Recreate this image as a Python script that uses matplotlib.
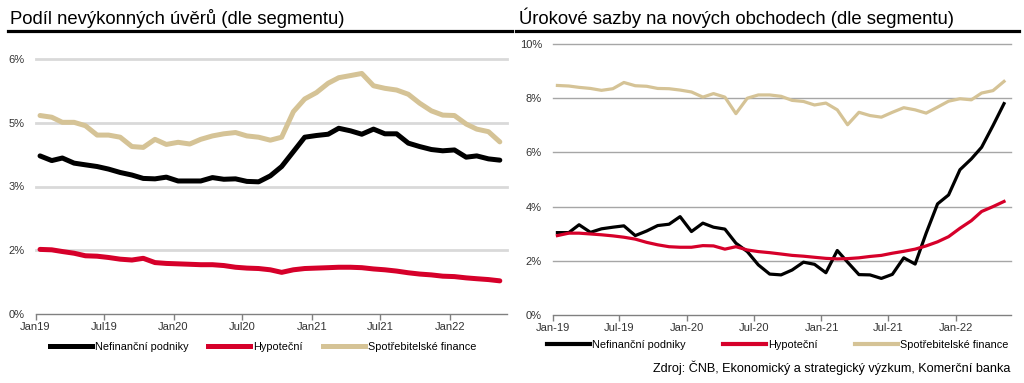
import matplotlib
matplotlib.use("Agg")
import matplotlib.pyplot as plt
from matplotlib.lines import Line2D
import pandas as pd

plt.rcParams['font.family'] = ['Liberation Sans', 'DejaVu Sans']

# ---------------- data ----------------
dates = pd.date_range('2019-01-01', '2022-05-01', freq='MS') + pd.Timedelta(days=12)

npl_corp = [3.72, 3.61, 3.67, 3.55, 3.51, 3.47, 3.41, 3.33, 3.27, 3.19, 3.18, 3.22, 3.13, 3.13,
            3.13, 3.21, 3.17, 3.18, 3.12, 3.11, 3.25, 3.47, 3.82, 4.16, 4.20, 4.23, 4.37, 4.31,
            4.23, 4.35, 4.24, 4.24, 4.02, 3.94, 3.87, 3.84, 3.86, 3.69, 3.72, 3.65, 3.62]
npl_mort = [1.52, 1.51, 1.47, 1.43, 1.37, 1.36, 1.33, 1.29, 1.27, 1.31, 1.21, 1.19, 1.18, 1.17,
            1.16, 1.16, 1.14, 1.10, 1.08, 1.07, 1.04, 0.98, 1.04, 1.07, 1.08, 1.09, 1.10, 1.10,
            1.09, 1.06, 1.04, 1.01, 0.97, 0.94, 0.92, 0.89, 0.88, 0.85, 0.83, 0.81, 0.78]
npl_cons = [4.67, 4.63, 4.51, 4.51, 4.43, 4.21, 4.21, 4.16, 3.94, 3.92, 4.11, 3.99, 4.04, 4.00,
            4.11, 4.19, 4.24, 4.27, 4.19, 4.16, 4.09, 4.16, 4.76, 5.06, 5.21, 5.43, 5.56, 5.61,
            5.66, 5.37, 5.31, 5.27, 5.17, 4.96, 4.78, 4.68, 4.67, 4.47, 4.35, 4.29, 4.05]

rate_corp = [3.04, 3.04, 3.33, 3.05, 3.18, 3.24, 3.29, 2.93, 3.10, 3.30, 3.35, 3.63, 3.08, 3.39,
             3.24, 3.17, 2.65, 2.34, 1.85, 1.51, 1.48, 1.66, 1.95, 1.87, 1.56, 2.38, 1.95, 1.49,
             1.48, 1.35, 1.50, 2.11, 1.88, 3.02, 4.10, 4.43, 5.36, 5.76, 6.19, 6.99, 7.80]
rate_mort = [2.93, 3.02, 3.02, 2.99, 2.96, 2.92, 2.87, 2.80, 2.68, 2.59, 2.52, 2.50, 2.50, 2.56,
             2.55, 2.43, 2.52, 2.40, 2.34, 2.30, 2.25, 2.20, 2.17, 2.13, 2.09, 2.07, 2.08, 2.11,
             2.16, 2.20, 2.28, 2.35, 2.43, 2.55, 2.70, 2.89, 3.20, 3.48, 3.82, 4.00, 4.19]
rate_cons = [8.47, 8.45, 8.40, 8.36, 8.29, 8.35, 8.58, 8.46, 8.44, 8.36, 8.35, 8.30, 8.23, 8.04,
             8.17, 8.04, 7.43, 8.00, 8.12, 8.12, 8.07, 7.92, 7.88, 7.75, 7.82, 7.57, 7.02, 7.48,
             7.36, 7.30, 7.48, 7.65, 7.57, 7.45, 7.67, 7.89, 7.98, 7.94, 8.19, 8.28, 8.62]

series_names = ['Nefinanční podniky', 'Hypoteční', 'Spotřebitelské finance']
left_title = 'Podíl nevýkonných úvěrů (dle segmentu)'
right_title = 'Úrokové sazby na nových obchodech (dle segmentu)'
source = 'Zdroj: ČNB, Ekonomický a strategický výzkum, Komerční banka'

left_yticks = [0, 1.5, 3, 4.5, 6]
left_yticklabels = ['0%', '2%', '3%', '5%', '6%']
right_yticks = [0, 2, 4, 6, 8, 10]
right_yticklabels = ['0%', '2%', '4%', '6%', '8%', '10%']
xtick_dates = pd.to_datetime(['2019-01-01', '2019-07-01', '2020-01-01', '2020-07-01',
                              '2021-01-01', '2021-07-01', '2022-01-01'])
left_xticklabels = ['Jan19', 'Jul19', 'Jan20', 'Jul20', 'Jan21', 'Jul21', 'Jan22']
right_xticklabels = ['Jan-19', 'Jul-19', 'Jan-20', 'Jul-20', 'Jan-21', 'Jul-21', 'Jan-22']

colors = ['#000000', '#d6002a', '#d5c396']

# ---------------- figure ----------------
W, H = 1024, 383
fig = plt.figure(figsize=(W / 100, H / 100), dpi=100)


def px_axes(x0, y0, x1, y1):
    return fig.add_axes([x0 / W, 1 - y1 / H, (x1 - x0) / W, (y1 - y0) / H])


def style_axes(ax, yticks, ylabels, xlabels, gridcolor, gridlw):
    ax.set_xlim(pd.Timestamp('2019-01-01'), pd.Timestamp('2022-06-01'))
    ax.set_ylim(yticks[0], yticks[-1])
    ax.set_yticks(yticks)
    ax.set_yticklabels(ylabels)
    ax.set_xticks(xtick_dates)
    ax.set_xticklabels(xlabels)
    for s in ['top', 'right', 'left']:
        ax.spines[s].set_visible(False)
    ax.spines['bottom'].set_color('#808080')
    ax.spines['bottom'].set_linewidth(1.0)
    ax.tick_params(axis='y', length=0, pad=8, labelsize=8, labelcolor='#333333')
    ax.tick_params(axis='x', length=4, width=1.0, color='#808080', pad=2,
                   labelsize=8, labelcolor='#333333')
    for t in yticks[1:]:
        ax.axhline(t, color=gridcolor, lw=gridlw, zorder=0, clip_on=False)


# left panel
axl = px_axes(35.5, 59, 507, 314)
style_axes(axl, left_yticks, left_yticklabels, left_xticklabels, '#d9d9d9', 2.0)
for vals, c in zip([npl_corp, npl_mort, npl_cons], colors):
    axl.plot(dates, vals, color=c, lw=3.6, solid_capstyle='round', solid_joinstyle='round')
axl.legend([Line2D([], [], color=c, lw=3.6) for c in colors], series_names,
           loc='upper left', bbox_to_anchor=(14 / 471.5, -0.11), ncol=3, frameon=False,
           fontsize=7.8, handlelength=3.9, handletextpad=0.3, columnspacing=1.8,
           borderaxespad=0, borderpad=0)

# right panel
axr = px_axes(553, 44, 1011, 315)
style_axes(axr, right_yticks, right_yticklabels, right_xticklabels, '#a6a6a6', 1.0)
for vals, c in zip([rate_corp, rate_mort, rate_cons], colors):
    axr.plot(dates, vals, color=c, lw=2.3, solid_joinstyle='round')
axr.legend([Line2D([], [], color=c, lw=3.0) for c in colors], series_names,
           loc='upper left', bbox_to_anchor=(-6 / 458, -0.092), ncol=3, frameon=False,
           fontsize=7.8, handlelength=4.0, handletextpad=0.2, columnspacing=3.4,
           borderaxespad=0, borderpad=0)

# titles and underline rules
fig.text(10 / W, 1 - 18 / H, left_title, fontsize=13.3, va='center', ha='left', color='#000000')
fig.text(519 / W, 1 - 18 / H, right_title, fontsize=13.3, va='center', ha='left', color='#000000')
fig.add_artist(Line2D([8 / W, 512 / W], [1 - 31 / H, 1 - 31 / H], color='black', lw=2.3))
fig.add_artist(Line2D([516 / W, 1019 / W], [1 - 31 / H, 1 - 31 / H], color='black', lw=2.3))

fig.text(1010 / W, 1 - 368 / H, source, fontsize=9.1, ha='right', va='center',
         color='#000000')

fig.savefig('out.png', dpi=100)
